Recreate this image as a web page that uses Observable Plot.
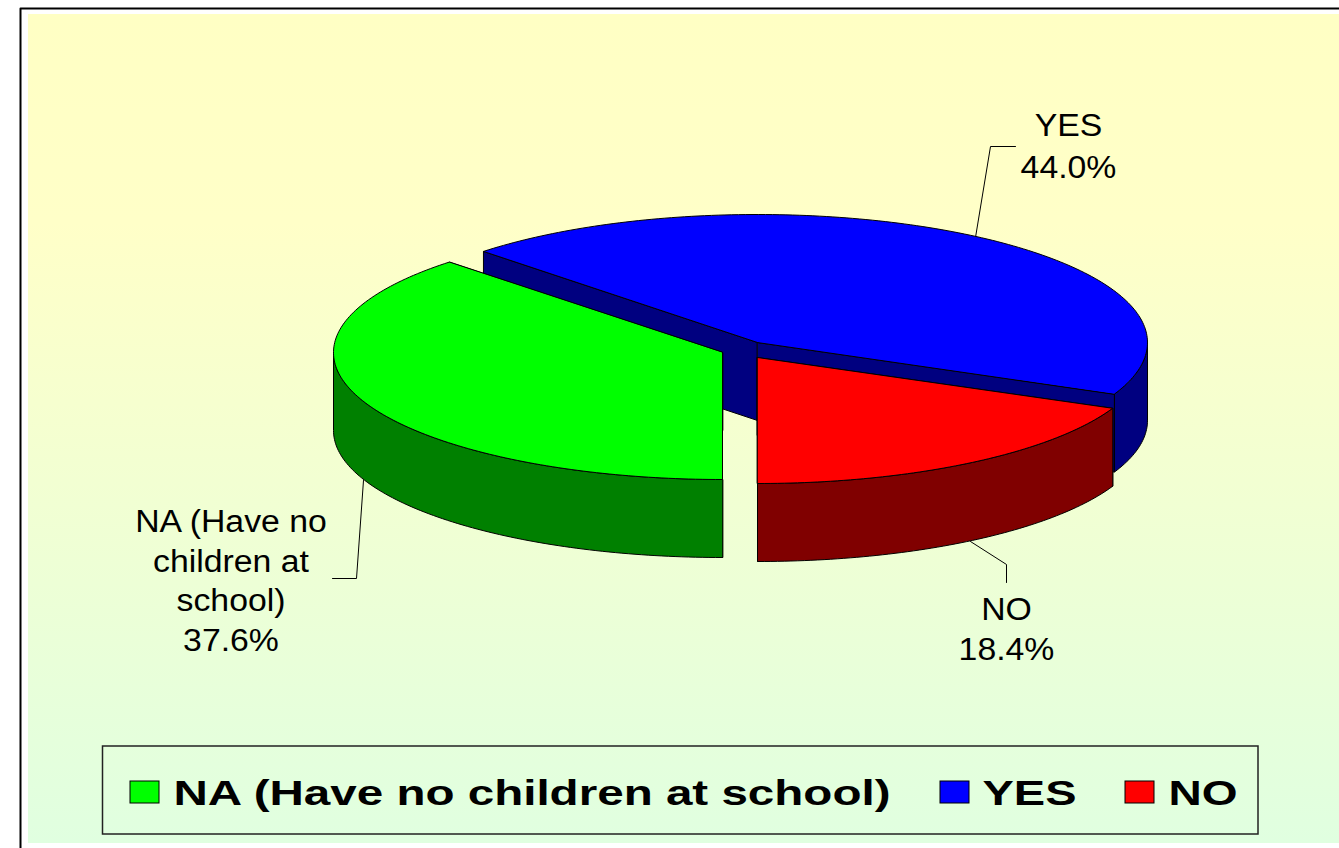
<!DOCTYPE html>
<html>
<head>
<meta charset="utf-8">
<script src="https://cdn.jsdelivr.net/npm/d3@7"></script>
<script src="https://cdn.jsdelivr.net/npm/@observablehq/plot@0.6"></script>
<style>html,body{margin:0;padding:0;background:#fff}svg{display:block}</style>
</head>
<body>
<div id="chart"></div>
<script>
// Data
const categories = ["NA (Have no children at school)", "YES", "NO"];
const shares = [37.6, 44.0, 18.4];
const labelNames = [["NA (Have no", "children at", "school)"], ["YES"], ["NO"]];
const topColors = ["#00FF00", "#0000FF", "#FF0000"];
const sideColors = ["#008000", "#000080", "#800000"];

// Layout (the page is drawn in a 1339x848 coordinate scale)
const W = 1339, H = 848;
const startAngle = 90, depth = 78;
const discs = [
  {cx: 722, cy: 352, rx: 389, ry: 127},
  {cx: 757, cy: 342, rx: 390, ry: 128},
  {cx: 757, cy: 357, rx: 388, ry: 126}
];
const labelAt = [{x: 230.5, y: 522, step: 39.4}, {x: 1068, y: 126, step: 41.5}, {x: 1006, y: 610, step: 40}];
const leaders = [
  [[363, 480], [356, 578], [332, 578]],
  [[975, 237], [990, 146], [1015, 146]],
  [[970, 541], [1006, 564], [1006, 582]]
];
const swatchAt = [130, 940, 1125];
const legendTextAt = [173, 982, 1168];
const legendTextWidth = [717, 94, 69];

// Slice angles follow from the shares
let running = startAngle;
const slices = categories.map((name, i) => {
  const t0 = running;
  running += shares[i] * 3.6;
  return {name, i, t0, t1: running, ...discs[i]};
});
const pt = (s, t, dz = 0) => {
  const a = t * Math.PI / 180;
  return {x: s.cx + s.rx * Math.cos(a), y: s.cy + s.ry * Math.sin(a) + dz};
};
const arc = (s, t0, t1, dz = 0) => {
  const n = Math.max(2, Math.ceil(Math.abs(t1 - t0)));
  return d3.range(n + 1).map(k => pt(s, t0 + (t1 - t0) * k / n, dz));
};
const topFace = s => [{x: s.cx, y: s.cy}, ...arc(s, s.t0, s.t1)];
const cutFace = (s, t) => {
  const p = pt(s, t);
  return [{x: s.cx, y: s.cy}, p, {x: p.x, y: p.y + depth}, {x: s.cx, y: s.cy + depth}];
};
const sideFace = s => {
  // only the front half of the rim (0..180 degrees, modulo one turn) can be seen
  const faces = [];
  for (const base of [0, 360]) {
    const a = Math.max(s.t0, base), b = Math.min(s.t1, base + 180);
    if (b > a) faces.push([...arc(s, a, b), ...arc(s, b, a, depth)]);
  }
  return faces;
};
const poly = (rows, fill) => Plot.line(rows, {
  x: "x", y: "y", fill, stroke: "#000", strokeWidth: 1, curve: "linear-closed", strokeLinejoin: "round"
});

// Back to front: blue, then green, then red
const order = [1, 0, 2];
const pieMarks = order.flatMap(i => {
  const s = slices[i];
  return [
    poly(cutFace(s, s.t0), sideColors[i]),
    poly(cutFace(s, s.t1), sideColors[i]),
    ...sideFace(s).map(f => poly(f, sideColors[i])),
    poly(topFace(s), topColors[i])
  ];
});

const labelRows = categories.flatMap((c, i) =>
  [...labelNames[i], `${shares[i].toFixed(1)}%`].map((text, k) => ({
    x: labelAt[i].x, y: labelAt[i].y + k * labelAt[i].step, text
  }))
);

const defs = () => {
  const d = d3.create("svg:defs");
  const g = d.append("linearGradient").attr("id", "bg").attr("x1", 0).attr("y1", 0).attr("x2", 0).attr("y2", 1);
  g.append("stop").attr("offset", "0").attr("stop-color", "#FFFFC4");
  g.append("stop").attr("offset", "0.25").attr("stop-color", "#FFFFC8");
  g.append("stop").attr("offset", "1").attr("stop-color", "#E0FFE0");
  return d.node();
};

const legendRows = categories.map((c, i) => ({x: legendTextAt[i], y: 793.5, text: c, width: legendTextWidth[i]}));

const svg = Plot.plot({
  width: W, height: H,
  margin: 0,
  x: {domain: [0, W], range: [0, W], axis: null},
  y: {domain: [0, H], range: [0, H], axis: null},
  style: {background: "#fff", fontFamily: "'Liberation Sans', Arial, sans-serif", color: "#000"},
  marks: [
    defs,
    Plot.rect([{x1: 28, x2: W, y1: 14, y2: 843}], {x1: "x1", x2: "x2", y1: "y1", y2: "y2", fill: "url(#bg)"}),
    Plot.line([{x: 20, y: H}, {x: 20, y: 8}, {x: W, y: 8}], {x: "x", y: "y", stroke: "#000", strokeWidth: 2}),
    ...leaders.map(l => Plot.line(l, {x: d => d[0], y: d => d[1], stroke: "#000", strokeWidth: 1})),
    ...pieMarks,
    Plot.text(labelRows, {x: "x", y: "y", text: "text", fontSize: 31, fill: "#000", textAnchor: "middle", className: "pie-label"}),
    Plot.rect([{x1: 102.5, x2: 1258, y1: 746, y2: 834}], {x1: "x1", x2: "x2", y1: "y1", y2: "y2", fill: "none", stroke: "#222", strokeWidth: 1.5}),
    Plot.rect(categories.map((c, i) => ({x1: swatchAt[i], x2: swatchAt[i] + 29, y1: 781, y2: 803, f: topColors[i]})),
      {x1: "x1", x2: "x2", y1: "y1", y2: "y2", fill: "f", stroke: "#000", strokeWidth: 1}),
    Plot.text(legendRows, {x: "x", y: "y", text: "text", fontSize: 35, fontWeight: "bold", fill: "#000", textAnchor: "start", className: "legend-label"})
  ]
});
document.getElementById("chart").append(svg);
// The reference's type is set wider than the installed font: stretch each string to the width it has there.
d3.select(svg).selectAll(".pie-label text").each(function () {
  d3.select(this).attr("textLength", this.getComputedTextLength() * 1.09).attr("lengthAdjust", "spacingAndGlyphs");
});
d3.select(svg).selectAll(".legend-label text").each(function (_, k) {
  d3.select(this).attr("textLength", legendTextWidth[k]).attr("lengthAdjust", "spacingAndGlyphs");
});
</script>
</body>
</html>
